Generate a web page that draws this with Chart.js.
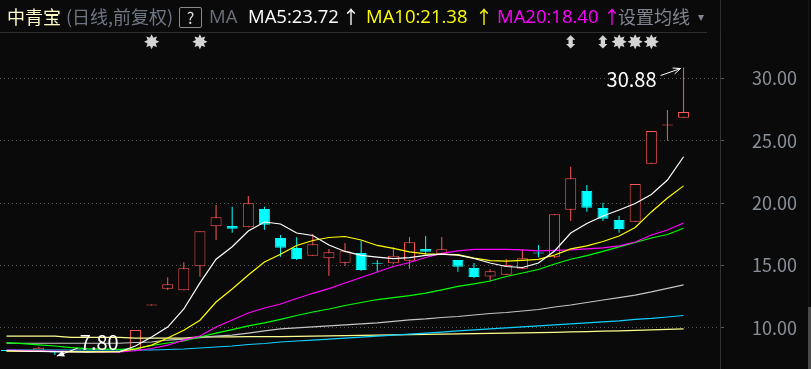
<!DOCTYPE html>
<html lang="zh">
<head>
<meta charset="utf-8">
<title>中青宝</title>
<script src="https://cdn.jsdelivr.net/npm/chart.js@4.4.1/dist/chart.umd.min.js"></script>
<style>
  html, body { margin: 0; padding: 0; background: #0a0a0a; }
  #wrap { position: relative; width: 811px; height: 369px; overflow: hidden; background: #0a0a0a;
          font-family: "Noto Sans CJK SC", "Noto Sans", sans-serif; }
  #kline { position: absolute; left: 0; top: 0; }
  .t { position: absolute; top: 3px; height: 26px; line-height: 26px; font-size: 18px; white-space: nowrap; }
  .lat { font-family: "Open Sans", "Noto Sans", sans-serif; font-size: 18.5px; }
  .q { position: absolute; left: 179px; top: 7px; width: 21px; height: 19px; border: 1px solid #8a8a8a;
       border-radius: 2px; color: #dcdcdc; font-size: 16px; line-height: 19px; text-align: center; }
  .sep { position: absolute; background: #2e2e2e; }
</style>
</head>
<body>
<div id="wrap">
  <canvas id="kline" width="811" height="369"></canvas>
  <div id="hdr"></div>
  <div class="sep" style="left:0;top:32px;width:707px;height:1px"></div>
  <div class="sep" style="left:720px;top:0;width:1px;height:33px"></div>
  <div class="sep" style="left:808px;top:0;width:1px;height:369px;background:#161616"></div>
  <div class="sep" style="left:808px;top:307px;width:3px;height:62px;background:#4a4a4a"></div>
</div>
<script>
// 日K数据
const opens  = [8.15, 8.12, 8.13, 8.13, 8.0, 8.04, 8.01, 8.03, 8.18, 11.78, 13.13, 13.0, 14.93, 18.14, 18.16, 18.06, 19.53, 17.2, 16.4, 15.78, 15.57, 15.22, 16.0, 15.15, 15.17, 15.38, 16.32, 15.94, 15.43, 14.79, 14.1, 14.25, 14.74, 15.99, 15.7, 19.47, 20.97, 19.61, 18.64, 18.51, 23.16, 26.22, 26.85];
const highs  = [8.18, 8.2, 8.45, 8.15, 8.05, 8.05, 8.05, 8.12, 9.82, 11.78, 14.05, 15.25, 17.74, 19.85, 19.71, 20.57, 19.71, 17.44, 17.26, 17.52, 16.32, 16.8, 16.98, 15.43, 16.45, 17.28, 17.36, 17.28, 15.43, 15.19, 14.69, 15.51, 16.29, 16.64, 19.1, 22.92, 21.45, 20.03, 18.96, 21.53, 25.79, 27.47, 30.88];
const lows   = [8.1, 8.08, 8.1, 7.80, 8.0, 8.0, 8.0, 8.0, 8.15, 11.78, 13.03, 13.0, 14.09, 17.04, 17.62, 18.06, 17.86, 15.7, 15.43, 15.78, 14.17, 14.98, 14.55, 14.49, 15.1, 14.74, 15.89, 15.94, 14.49, 13.99, 13.69, 14.25, 14.7, 15.65, 15.6, 18.56, 19.31, 18.56, 17.62, 18.51, 23.16, 25.01, 26.85];
const closes = [8.12, 8.16, 8.4, 8.0, 8.04, 8.02, 8.05, 8.08, 9.82, 11.78, 13.48, 14.77, 17.74, 18.86, 17.95, 19.98, 18.27, 16.42, 15.51, 16.69, 16.05, 16.13, 14.63, 15.13, 15.78, 16.85, 16.1, 16.29, 14.9, 14.07, 14.53, 15.03, 15.57, 15.95, 19.1, 21.99, 19.63, 18.75, 17.92, 21.53, 25.79, 26.26, 27.31];

// 均线
const ma5   = [8.15, 8.12, 8.1, 8.08, 8.05, 8.04, 8.05, 8.06, 8.53, 9.25, 10.05, 11.5, 13.6, 15.5, 16.5, 17.76, 18.48, 18.32, 17.6, 17.4, 16.64, 16.12, 15.8, 15.67, 15.55, 15.63, 15.8, 15.9, 15.83, 15.55, 15.19, 14.91, 14.83, 15.19, 16.16, 17.6, 18.36, 18.96, 19.45, 19.97, 20.69, 21.85, 23.72];
const ma10  = [8.12, 8.11, 8.1, 8.09, 8.08, 8.08, 8.08, 8.09, 8.29, 8.6, 9.17, 9.8, 10.6, 12.06, 13.1, 14.23, 15.27, 15.9, 16.6, 17.0, 17.24, 17.32, 17.04, 16.6, 16.36, 16.08, 15.92, 15.89, 15.87, 15.59, 15.38, 15.34, 15.41, 15.49, 15.83, 16.32, 16.56, 16.92, 17.36, 18.04, 19.29, 20.41, 21.38];
const ma20  = [8.2, 8.18, 8.15, 8.13, 8.1, 8.08, 8.07, 8.06, 8.15, 8.33, 8.6, 9.0, 9.33, 10.06, 10.62, 11.18, 11.58, 11.9, 12.34, 12.76, 13.14, 13.59, 14.03, 14.47, 14.91, 15.23, 15.63, 15.96, 16.16, 16.29, 16.29, 16.29, 16.25, 16.16, 16.2, 16.24, 16.32, 16.4, 16.56, 16.88, 17.44, 17.84, 18.40];
const ma30  = [8.8, 8.72, 8.62, 8.53, 8.4, 8.32, 8.28, 8.26, 8.33, 8.57, 8.77, 8.93, 9.25, 9.57, 9.84, 10.14, 10.38, 10.67, 10.98, 11.26, 11.5, 11.78, 12.02, 12.26, 12.42, 12.58, 12.78, 13.03, 13.31, 13.51, 13.75, 14.11, 14.39, 14.67, 15.11, 15.49, 15.79, 16.12, 16.48, 16.84, 17.2, 17.48, 17.98];
const ma60  = [8.75, 8.75, 8.75, 8.75, 8.75, 8.75, 8.75, 8.75, 8.81, 8.85, 9.01, 9.09, 9.21, 9.33, 9.41, 9.57, 9.74, 9.9, 9.98, 10.06, 10.14, 10.22, 10.3, 10.38, 10.5, 10.62, 10.7, 10.82, 10.9, 11.02, 11.14, 11.22, 11.34, 11.46, 11.66, 11.82, 12.02, 12.22, 12.42, 12.62, 12.87, 13.15, 13.43];
const ma120 = [8.21, 8.21, 8.21, 8.21, 8.21, 8.21, 8.21, 8.21, 8.21, 8.21, 8.25, 8.29, 8.37, 8.45, 8.53, 8.65, 8.73, 8.85, 8.93, 9.01, 9.09, 9.17, 9.25, 9.33, 9.41, 9.49, 9.57, 9.65, 9.74, 9.82, 9.9, 9.98, 10.06, 10.14, 10.22, 10.3, 10.38, 10.46, 10.54, 10.66, 10.74, 10.86, 10.98];
const ma250 = [9.33, 9.33, 9.33, 9.33, 9.23, 9.23, 9.23, 9.23, 9.17, 9.17, 9.17, 9.17, 9.27, 9.27, 9.27, 9.28, 9.28, 9.29, 9.3, 9.33, 9.35, 9.37, 9.39, 9.41, 9.43, 9.45, 9.47, 9.49, 9.51, 9.53, 9.55, 9.57, 9.59, 9.61, 9.63, 9.66, 9.69, 9.72, 9.75, 9.78, 9.82, 9.86, 9.9];

// 坐标刻度
const yTicks = [10, 15, 20, 25, 30];

// 信息地雷标记
const markIdx = [9, 12, 35, 37, 38, 39, 40];
const markSym = ['✸', '✸', '⬍', '⬍', '✸', '✸', '✸'];

const RED = '#ff5656';
const CYAN = '#00ffff';
const BG = '#0a0a0a';

const xs = closes.map((_, i) => i);
const isUp = (i) => closes[i] >= opens[i];
const isFlat = (i) => Math.abs(closes[i] - opens[i]) < 0.1;

// 标题栏
const hdr = document.getElementById('hdr');
function addText(txt, left, color, cls, size) {
  const s = document.createElement('span');
  s.className = 't' + (cls ? ' ' + cls : '');
  s.style.left = left + 'px';
  s.style.color = color;
  if (size) s.style.fontSize = size + 'px';
  s.textContent = txt;
  hdr.appendChild(s);
}
addText('中青宝', 7, '#fffcc8');
addText('(日线,前复权)', 66, '#6f7684');
const q = document.createElement('span');
q.className = 'q';
q.textContent = '?';
hdr.appendChild(q);
addText('MA', 209, '#6a6f78', 'lat');
const heads = [
  { name: 'MA5', vals: ma5, color: '#ffffff', left: 248, arrow: 342 },
  { name: 'MA10', vals: ma10, color: '#ffff00', left: 366, arrow: 475 },
  { name: 'MA20', vals: ma20, color: '#ff00ff', left: 497, arrow: 603 },
];
heads.forEach(h => {
  addText(h.name + ':' + h.vals[h.vals.length - 1].toFixed(2), h.left, h.color, 'lat');
  addText('↑', h.arrow, h.color);
});
addText('设置均线', 618, '#80858f');
addText('▾', 698, '#80858f', '', 12);

function drawArrow(ctx, x1, y1, x2, y2, filled) {
  const a = Math.atan2(y2 - y1, x2 - x1);
  const L = 8;
  ctx.beginPath();
  ctx.moveTo(x1, y1);
  ctx.lineTo(x2, y2);
  ctx.stroke();
  ctx.beginPath();
  ctx.moveTo(x2 - L * Math.cos(a - 0.4), y2 - L * Math.sin(a - 0.4));
  ctx.lineTo(x2, y2);
  ctx.lineTo(x2 - L * Math.cos(a + 0.4), y2 - L * Math.sin(a + 0.4));
  if (filled) { ctx.closePath(); ctx.fill(); } else { ctx.stroke(); }
}

const marksPlugin = {
  id: 'marks',
  afterDatasetsDraw(chart) {
    const { ctx, scales: { x, y } } = chart;
    ctx.save();
    ctx.fillStyle = '#d4d4d4';
    ctx.textAlign = 'center';
    ctx.textBaseline = 'middle';
    markIdx.forEach((d, k) => {
      ctx.font = markSym[k] === '✸' ? 'bold 20px "DejaVu Sans"' : 'bold 17px "DejaVu Sans"';
      ctx.fillText(markSym[k], x.getPixelForValue(d), 44);
    });

    // 最高 / 最低 标注
    const hi = Math.max(...highs), iHi = highs.indexOf(hi);
    const lo = Math.min(...lows), iLo = lows.indexOf(lo);
    const hx = x.getPixelForValue(iHi), hy = y.getPixelForValue(hi);
    const lx = x.getPixelForValue(iLo), ly = y.getPixelForValue(lo);
    ctx.fillStyle = '#ffffff';
    ctx.strokeStyle = '#ffffff';
    ctx.lineWidth = 1;
    ctx.font = '20px "Noto Sans CJK SC"';
    ctx.textAlign = 'right';
    ctx.fillText(hi.toFixed(2), hx - 27, hy + 12);
    drawArrow(ctx, hx - 23, hy + 8, hx - 3, hy + 1, false);
    ctx.textAlign = 'left';
    ctx.fillText(lo.toFixed(2), lx + 25, ly - 13);
    drawArrow(ctx, lx + 23, ly - 7, lx + 2, ly + 1, true);
    ctx.restore();
  }
};

const line = (data, color) => ({
  type: 'line',
  data: xs.map(i => ({ x: i, y: data[i] })),
  borderColor: color,
  borderWidth: 1.2,
  pointRadius: 0,
  tension: 0,
  order: 1,
});

new Chart(document.getElementById('kline'), {
  type: 'bar',
  data: {
    datasets: [
      line(ma5, '#ffffff'),
      line(ma10, '#ffff00'),
      line(ma20, '#ff00ff'),
      line(ma30, '#00ff00'),
      line(ma60, '#c4c4c4'),
      line(ma120, '#10d0ff'),
      line(ma250, '#ffff90'),
      {
        // 实体
        type: 'bar',
        data: xs.map(i => ({ x: i, y: [opens[i], closes[i]] })),
        barThickness: 11,
        grouped: false,
        minBarLength: 1,
        inflateAmount: 0,
        borderWidth: 1,
        borderSkipped: false,
        borderColor: (c) => isUp(c.dataIndex) ? RED : CYAN,
        backgroundColor: (c) => {
          const i = c.dataIndex;
          if (!isUp(i)) return CYAN;
          return isFlat(i) ? RED : BG;
        },
        order: 2,
      },
      {
        // 影线
        type: 'bar',
        data: xs.map(i => ({ x: i, y: [lows[i], highs[i]] })),
        barThickness: 1,
        grouped: false,
        minBarLength: 1,
        inflateAmount: 0,
        borderWidth: 0,
        backgroundColor: (c) => isUp(c.dataIndex) ? RED : CYAN,
        order: 3,
      },
    ],
  },
  options: {
    responsive: false,
    animation: false,
    events: [],
    layout: { padding: { top: 33, left: 0, right: 0, bottom: 0 } },
    plugins: { legend: { display: false }, tooltip: { enabled: false } },
    scales: {
      x: {
        type: 'linear',
        min: -0.403,
        max: 44.26,
        offset: false,
        display: false,
      },
      y: {
        position: 'right',
        min: 6.685,
        max: 33.65,
        afterBuildTicks: (s) => { s.ticks = yTicks.map(v => ({ value: v })); },
        afterFit: (s) => { s.width = 91; s.paddingTop = 0; s.paddingBottom = 0; },
        grid: {
          color: '#5a5a5a',
          tickColor: '#5a5a5a',
          tickLength: 4,
          tickBorderDash: [],
        },
        border: { display: true, color: '#333333', width: 1, dash: [1, 3] },
        ticks: {
          color: '#8a9099',
          padding: 28,
          font: { family: 'Noto Sans CJK SC', size: 18 },
          callback: (v) => Number(v).toFixed(2),
        },
      },
    },
  },
  plugins: [marksPlugin],
});
</script>
</body>
</html>
